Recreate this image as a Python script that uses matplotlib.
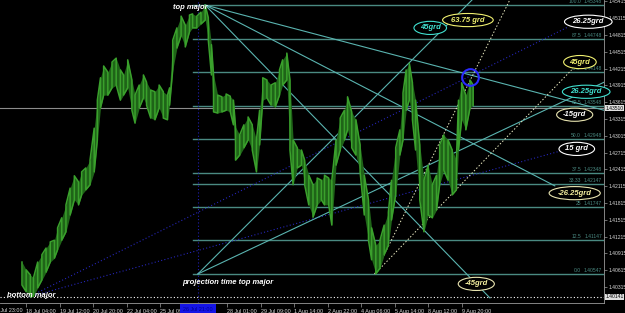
import matplotlib.pyplot as plt

plt.rcParams['font.family'] = ['Liberation Sans', 'DejaVu Sans']

# H1 bars, sampled: bar index, high, low
bars = [21, 25, 29, 32, 36, 40, 44, 48, 52, 55, 59, 63, 67, 71, 75, 78, 82, 86, 90, 93,
        96, 99, 103, 107, 111, 115, 118, 122, 126, 129, 133, 137, 140, 144, 148, 152, 156, 160, 162, 165,
        169, 173, 177, 181, 184, 188, 192, 196, 199, 202, 204, 208, 212, 216, 220, 223, 225, 229, 233, 237,
        241, 245, 248, 251, 255, 259, 263, 267, 270, 274, 277, 280, 284, 288, 291, 295, 299, 303, 307, 310,
        314, 317, 321, 325, 329, 332, 336, 340, 344, 348, 352, 355, 359, 363, 367, 371, 374, 378, 382, 385,
        388, 391, 394, 397, 401, 405, 409, 413, 417, 420, 424, 428, 432, 436, 438, 441, 445, 449, 452]
highs = [1.4076, 1.4062, 1.4053, 1.4048, 1.4076, 1.4089, 1.4101, 1.4112, 1.4115, 1.4137,
         1.4155, 1.4178, 1.4208, 1.4230, 1.4219, 1.4237, 1.4244, 1.4258, 1.4315, 1.4365,
         1.4405, 1.4426, 1.4415, 1.4433, 1.4440, 1.4419, 1.4410, 1.4437, 1.4401, 1.4374,
         1.4392, 1.4410, 1.4397, 1.4383, 1.4380, 1.4392, 1.4380, 1.4374, 1.4387, 1.4472,
         1.4494, 1.4515, 1.4499, 1.4517, 1.4519, 1.4515, 1.4522, 1.4535, 1.4512, 1.4464,
         1.4410, 1.4374, 1.4371, 1.4376, 1.4372, 1.4365, 1.4317, 1.4303, 1.4321, 1.4335,
         1.4321, 1.4294, 1.4347, 1.4405, 1.4401, 1.4392, 1.4396, 1.4419, 1.4437, 1.4449,
         1.4401, 1.4294, 1.4280, 1.4276, 1.4258, 1.4231, 1.4214, 1.4226, 1.4222, 1.4231,
         1.4226, 1.4222, 1.4294, 1.4333, 1.4347, 1.4371, 1.4344, 1.4330, 1.4285, 1.4231,
         1.4187, 1.4137, 1.4106, 1.4115, 1.4142, 1.4165, 1.4222, 1.4280, 1.4312, 1.4378,
         1.4419, 1.4431, 1.4396, 1.4365, 1.4285, 1.4222, 1.4249, 1.4214, 1.4231, 1.4285,
         1.4303, 1.4294, 1.4276, 1.4258, 1.4365, 1.4396, 1.4374, 1.4401, 1.4392]
lows = [1.4035, 1.4023, 1.4014, 1.4015, 1.4030, 1.4044, 1.4058, 1.4076, 1.4083, 1.4098,
        1.4115, 1.4130, 1.4160, 1.4187, 1.4178, 1.4196, 1.4205, 1.4214, 1.4237, 1.4294,
        1.4351, 1.4374, 1.4374, 1.4387, 1.4392, 1.4365, 1.4374, 1.4387, 1.4347, 1.4324,
        1.4351, 1.4369, 1.4356, 1.4333, 1.4330, 1.4351, 1.4333, 1.4330, 1.4356, 1.4419,
        1.4458, 1.4480, 1.4460, 1.4487, 1.4494, 1.4494, 1.4501, 1.4508, 1.4472, 1.4410,
        1.4344, 1.4342, 1.4344, 1.4347, 1.4344, 1.4321, 1.4258, 1.4267, 1.4280, 1.4294,
        1.4276, 1.4237, 1.4285, 1.4365, 1.4369, 1.4356, 1.4353, 1.4374, 1.4392, 1.4401,
        1.4276, 1.4214, 1.4244, 1.4249, 1.4214, 1.4178, 1.4156, 1.4178, 1.4187, 1.4178,
        1.4178, 1.4142, 1.4249, 1.4276, 1.4294, 1.4312, 1.4280, 1.4267, 1.4237, 1.4160,
        1.4115, 1.4080, 1.4055, 1.4065, 1.4089, 1.4106, 1.4151, 1.4196, 1.4267, 1.4294,
        1.4347, 1.4365, 1.4330, 1.4276, 1.4187, 1.4130, 1.4160, 1.4155, 1.4169, 1.4214,
        1.4240, 1.4222, 1.4196, 1.4205, 1.4276, 1.4330, 1.4312, 1.4351, 1.4356]

bid = 1.4351
bottom_major_price = 1.40141

time_ticks = [25, 57, 89, 121, 153, 217, 249, 281, 313, 345, 377, 409, 441]
time_labels = ['18 Jul 04:00', '19 Jul 12:00', '20 Jul 20:00', '22 Jul 04:00', '25 Jul 09:00',
               '28 Jul 01:00', '29 Jul 09:00', '1 Aug 14:00', '2 Aug 22:00', '4 Aug 06:00',
               '5 Aug 14:00', '8 Aug 12:00', '9 Aug 20:00']
price_ticks = [1.45415, 1.45115, 1.44815, 1.44515, 1.44215, 1.43915, 1.43615, 1.43315, 1.43015,
               1.42715, 1.42415, 1.42115, 1.41815, 1.41515, 1.41215, 1.40915, 1.40615, 1.40315]

fib_names = ['100.0', '87.5', '75.0', '62.5', '50.0', '37.5', '33.33', '25', '12.5', '0.0']
fib_prices = [1.45348, 1.44748, 1.44148, 1.43548, 1.42948, 1.42348, 1.42147, 1.41747, 1.41147, 1.40547]
fib_start = 184

# anchor points (bar, price)
top_major = (196, 1.45348)
proj_top = (189, 1.40547)
low_aug = (358, 1.40547)
bottom_major = (28, 1.40141)

top_fan_ends = [(577, 1.4347), (530, 1.4212), (468, 1.4012)]      # -15, -26.25, -45
proj_fan_ends = [(451, 1.4544), (577, 1.4397)]                     # 45, 26.25
low_fan_ends = [(487, 1.4544), (546, 1.4419)]                      # 63.75, 45
bottom_fan_ends = [(543, 1.4496), (533, 1.4273)]                   # 26.25, 15
circle_pt = (449, 1.4406)

tag_text = ['45grd', '63.75 grd', '26.25grd', '45grd', '26.25grd', '-15grd', '15 grd', '-26.25grd', '-45grd']
tag_x = [411, 447, 562, 554, 560, 549, 551, 549, 455]
tag_y = [1.4494, 1.4508, 1.4505, 1.4433, 1.4380, 1.4339, 1.4278, 1.4199, 1.4037]
tag_color = ['#40e0d0', '#f0f070', 'white', '#f0f070', '#40e0d0', 'white', 'white', '#f5f0a0', '#f5f0a0']
tag_edge = ['#40e0d0', '#f0f070', 'white', '#f0f070', '#40e0d0', '#e8e4b0', 'white', '#e8e4b0', '#e8e4b0']

fig = plt.figure(figsize=(6.25, 3.13), dpi=100, facecolor='black')
ax = fig.add_axes([0, 10 / 313, 604 / 625, 303 / 313], facecolor='black')
ax.set_xlim(0, 577)
ax.set_ylim(1.40029, 1.45438)

green = '#3aa02c'
fan = '#5ab4b0'
fibc = '#4a8a82'

for p in fib_prices:
    ax.plot([fib_start, 577], [p, p], color=fibc, lw=1.0, zorder=1)
for name, p in zip(fib_names, fib_prices):
    ax.text(555, p + 0.0002, name, color=fibc, fontsize=3.6, ha='right', va='bottom', zorder=2)
    ax.text(575, p + 0.0002, '%.5f' % p, color=fibc, fontsize=3.6, ha='right', va='bottom', zorder=2)

ax.axhline(bid, color='#8c8c8c', lw=0.8, zorder=1)
ax.axhline(bottom_major_price, color='white', lw=0.8, ls=(0, (1, 2)), zorder=1)
ax.axvline(proj_top[0], color='#2020b0', lw=0.8, ls=(0, (1, 2)), zorder=1)

for e in bottom_fan_ends:
    ax.plot([bottom_major[0], e[0]], [bottom_major[1], e[1]], color='#2626b8', lw=0.8, ls=(0, (1, 2)), zorder=2)
for e in top_fan_ends:
    ax.plot([top_major[0], e[0]], [top_major[1], e[1]], color=fan, lw=0.8, zorder=2)
for e in proj_fan_ends:
    ax.plot([proj_top[0], e[0]], [proj_top[1], e[1]], color=fan, lw=0.8, zorder=2)
for e in low_fan_ends:
    ax.plot([low_aug[0], e[0]], [low_aug[1], e[1]], color='#e8e8c0', lw=0.7, ls=(0, (1.5, 2)), zorder=2)

# price bars: darker high/low band with a zigzag through the bars on top
ax.fill_between(bars, lows, highs, color='#1f6418', lw=0, zorder=3)
xs, ys = [], []
for i, b in enumerate(bars):
    if i % 2 == 0:
        xs += [b, b]
        ys += [highs[i], lows[i]]
    else:
        xs += [b, b]
        ys += [lows[i], highs[i]]
ax.plot(xs, ys, color=green, lw=1.1, zorder=3)

ax.plot([circle_pt[0]], [circle_pt[1]], marker='o', ms=12, mfc='none', mec='#2a2aff', mew=1.5, zorder=5)

for t, x, y, c, ec in zip(tag_text, tag_x, tag_y, tag_color, tag_edge):
    ax.text(x, y, t, color=c, fontsize=5.5, fontweight='bold', style='italic', ha='center', va='center',
            zorder=6, bbox=dict(boxstyle='ellipse,pad=0.15', fc='black', ec=ec, lw=0.8))

ax.text(165, 1.4531, 'top major', color='white', fontsize=5.5, fontweight='bold', style='italic',
        ha='left', va='center', zorder=6)
ax.text(174, 1.4040, 'projection time top major', color='white', fontsize=5.5, fontweight='bold',
        style='italic', ha='left', va='center', zorder=6)
ax.text(7, 1.4016, 'bottom major', color='white', fontsize=5.5, fontweight='bold', style='italic',
        ha='left', va='center', zorder=6)

# axes styling
for s in ['top', 'left']:
    ax.spines[s].set_visible(False)
for s in ['bottom', 'right']:
    ax.spines[s].set_color('#9a9a9a')
    ax.spines[s].set_linewidth(0.6)

ax.yaxis.tick_right()
ax.set_yticks(price_ticks)
ax.set_yticklabels(['%.5f' % v for v in price_ticks])
ax.tick_params(axis='y', colors='#9a9a9a', labelcolor='#d8d8d8', labelsize=3.6, length=2, width=0.5, pad=1)
ax.set_xticks(time_ticks)
ax.set_xticklabels(time_labels)
for lab in ax.get_xticklabels():
    lab.set_ha('left')
ax.tick_params(axis='x', colors='#9a9a9a', labelcolor='#d8d8d8', labelsize=3.9, length=3, width=0.5, pad=1)

ax.text(-7, -0.015, '17 Jul 23:00', transform=ax.get_xaxis_transform(), color='#d8d8d8',
        fontsize=3.9, ha='left', va='top', clip_on=False)
ax.text(proj_top[0], -0.013, '26 Jul 21:00', transform=ax.get_xaxis_transform(), color='#000090',
        fontsize=3.9, ha='center', va='top', clip_on=False, zorder=8,
        bbox=dict(boxstyle='square,pad=0.6', fc='#1414e6', ec='none'))

for v in [bid, bottom_major_price]:
    ax.text(578.5, v, '%.5f' % v, color='black', fontsize=3.6, ha='left', va='center', clip_on=False,
            bbox=dict(boxstyle='square,pad=0.12', fc='#e0e0e0', ec='none'), zorder=7)

fig.savefig('out.png', dpi=100, facecolor='black')
